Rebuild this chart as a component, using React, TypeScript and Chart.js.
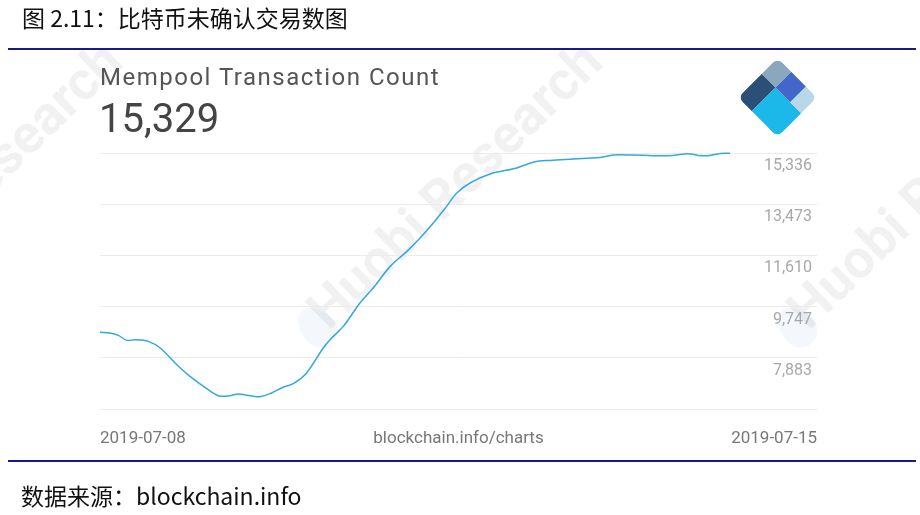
import React, { useEffect, useRef } from 'react';
import { Chart, registerables } from 'chart.js';

Chart.register(...registerables);

// Hours since 2019-07-08 00:00 (7 days = 168 h on the axis)
const hours = [
  0, 2.3, 4.3, 6.3, 8.2, 11.3, 14.1, 18.0, 21.1, 25.0, 27.7, 30.5, 32.4, 35.2, 37.5,
  40.2, 43.0, 45.3, 48.4, 52.3, 53.9, 57.0, 60.9, 64.0, 68.0, 71.9, 75.0, 78.1, 81.2,
  83.6, 86.7, 91.4, 97.6, 101.9, 105.4, 110.9, 117.2, 120.3, 125.0, 129.6, 134.3,
  137.8, 140.2, 142.5, 145.3, 147.6,
];
// Mempool transaction count
const counts = [
  8815, 8786, 8699, 8517, 8543, 8481, 8240, 7633, 7207, 6760, 6505, 6505, 6567, 6505, 6468,
  6603, 6821, 6942, 7331, 8240, 8543, 9026, 9878, 10424, 11210, 11755, 12243, 12789, 13393,
  13880, 14244, 14572, 14790, 15019, 15067, 15118, 15176, 15263, 15263, 15238, 15249,
  15311, 15249, 15238, 15321, 15329,
];

const yTickValues = [6020, 7883, 9747, 11610, 13473, 15336];
const yTickLabels = ['', '7,883', '9,747', '11,610', '13,473', '15,336'];
const xTickValues = [0, 84, 168];
const xTickLabels = ['2019-07-08', 'blockchain.info/charts', '2019-07-15'];

const figureTitle = '图 2.11：比特币未确认交易数图';
const chartTitle = 'Mempool Transaction Count';
const currentValue = '15,329';
const sourceNote = '数据来源：blockchain.info';
const watermark = 'Huobi Research';

// Draws the y tick labels just under their grid lines, inside the plot area
const innerYLabels = {
  id: 'innerYLabels',
  afterDatasetsDraw(chart: any) {
    const { ctx, chartArea, scales } = chart;
    const y = scales.y;
    ctx.save();
    ctx.font = '16px Roboto';
    ctx.fillStyle = '#a8a8a8';
    ctx.textAlign = 'right';
    ctx.textBaseline = 'middle';
    yTickValues.forEach((v, i) => {
      const label = yTickLabels[i];
      if (!label) return;
      ctx.fillText(label, chartArea.right - 5, y.getPixelForValue(v) + 13);
    });
    ctx.restore();
  },
};

export default function App() {
  const canvasRef = useRef<HTMLCanvasElement | null>(null);

  useEffect(() => {
    const canvas = canvasRef.current;
    if (!canvas) return;
    const chart = new Chart(canvas, {
      type: 'line',
      data: {
        datasets: [
          {
            data: hours.map((h, i) => ({ x: h, y: counts[i] })),
            borderColor: '#34a7de',
            borderWidth: 1.5,
            pointRadius: 0,
            tension: 0.35,
            fill: false,
            clip: 4,
          },
        ],
      },
      options: {
        responsive: false,
        animation: false,
        events: [],
        layout: { padding: { left: 100, top: 153, right: 103, bottom: 45.6 } },
        plugins: { legend: { display: false }, tooltip: { enabled: false }, title: { display: false } },
        scales: {
          x: {
            type: 'linear',
            min: 0,
            max: 168,
            afterBuildTicks: (scale: any) => {
              scale.ticks = xTickValues.map((v) => ({ value: v }));
            },
            grid: { display: false, drawTicks: false },
            border: { display: false },
            ticks: {
              autoSkip: false,
              maxRotation: 0,
              align: 'inner',
              padding: 20,
              color: '#777777',
              font: { family: 'Roboto', size: 17 },
              callback: (_v: any, i: number) => xTickLabels[i],
            },
          },
          y: {
            type: 'linear',
            position: 'right',
            min: yTickValues[0],
            max: yTickValues[yTickValues.length - 1],
            afterBuildTicks: (scale: any) => {
              scale.ticks = yTickValues.map((v) => ({ value: v }));
            },
            grid: { color: '#ebebeb', lineWidth: 1, drawTicks: false },
            border: { display: false },
            ticks: { display: false },
          },
        },
      },
      plugins: [innerYLabels],
    });
    return () => chart.destroy();
  }, []);

  const wmStyle = (left: number, top: number): React.CSSProperties => ({
    position: 'absolute',
    left,
    top: top - 54,
    fontFamily: 'Roboto',
    fontWeight: 700,
    fontSize: 54,
    lineHeight: '54px',
    color: 'rgba(0,0,0,0.055)',
    whiteSpace: 'nowrap',
    transformOrigin: '0 100%',
    transform: 'rotate(-44deg)',
  });

  const s = 56;
  const h = s / 2;
  const xa = -h + 0.35 * s;
  const xb = -h + 0.72 * s;
  const ya = h - 0.6 * s;

  return (
    <div
      style={{
        position: 'absolute',
        left: 0,
        top: 0,
        width: 920,
        height: 515,
        background: '#ffffff',
        overflow: 'hidden',
      }}
    >
      {/* watermarks */}
      {[-480, 0, 480].map((dx) => (
        <React.Fragment key={dx}>
          <div
            style={{
              position: 'absolute',
              left: 300 + dx,
              top: 305,
              width: 34,
              height: 44,
              borderRadius: '50% 50% 50% 50% / 60% 60% 40% 40%',
              background: 'rgba(60,140,200,0.06)',
              transform: 'rotate(-44deg)',
            }}
          />
          <div style={wmStyle(335 + dx, 338)}>{watermark}</div>
        </React.Fragment>
      ))}

      <canvas
        ref={canvasRef}
        width={920}
        height={515}
        style={{ position: 'absolute', left: 0, top: 0, width: 920, height: 515 }}
      />

      <div
        style={{
          position: 'absolute',
          left: 22,
          top: 6,
          fontFamily: '"Noto Sans CJK SC"',
          fontSize: 23,
          lineHeight: '23px',
          color: '#111111',
          whiteSpace: 'nowrap',
        }}
      >
        {figureTitle}
      </div>
      <div style={{ position: 'absolute', left: 8, top: 48, width: 908, height: 2, background: '#1a1a86' }} />
      <div style={{ position: 'absolute', left: 8, top: 460, width: 908, height: 2, background: '#1a1a86' }} />

      <div
        style={{
          position: 'absolute',
          left: 100,
          top: 64.5,
          fontFamily: 'Roboto',
          fontSize: 24,
          lineHeight: '24px',
          letterSpacing: '1.5px',
          color: '#555555',
          whiteSpace: 'nowrap',
        }}
      >
        {chartTitle}
      </div>
      <div
        style={{
          position: 'absolute',
          left: 99,
          top: 98.8,
          fontFamily: 'Roboto',
          fontSize: 40,
          lineHeight: '40px',
          color: '#444444',
          whiteSpace: 'nowrap',
        }}
      >
        {currentValue}
      </div>

      <svg
        width={920}
        height={515}
        style={{ position: 'absolute', left: 0, top: 0, pointerEvents: 'none' }}
      >
        <defs>
          <clipPath id="logoClip">
            <rect x={-h} y={-h} width={s} height={s} rx={7} ry={7} />
          </clipPath>
        </defs>
        <g transform="translate(777.5 97.5) rotate(45)" clipPath="url(#logoClip)">
          <rect x={-h} y={ya} width={xa + h} height={h - ya} fill="#2b4f77" />
          <rect x={-h} y={-h} width={xa + h} height={ya + h} fill="#8aa8bd" />
          <rect x={xa} y={ya} width={h - xa} height={h - ya} fill="#1cb8e9" />
          <rect x={xa} y={-h} width={xb - xa} height={ya + h} fill="#4367c8" />
          <rect x={xb} y={-h} width={h - xb} height={ya + h} fill="#b8d8ea" />
        </g>
      </svg>

      <div
        style={{
          position: 'absolute',
          left: 21,
          top: 484,
          fontFamily: '"Noto Sans CJK SC"',
          fontSize: 23,
          lineHeight: '23px',
          color: '#111111',
          whiteSpace: 'nowrap',
        }}
      >
        {sourceNote}
      </div>
    </div>
  );
}
